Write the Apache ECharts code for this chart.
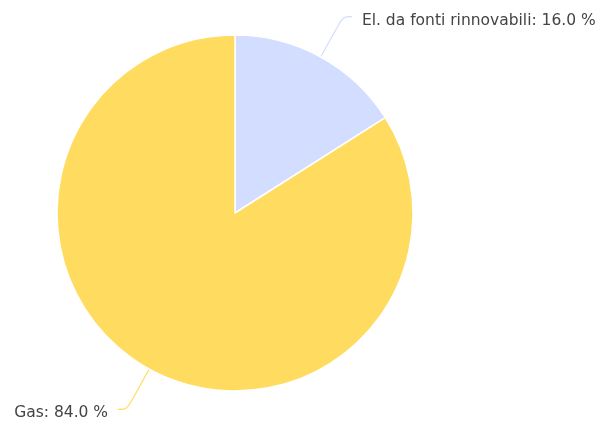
<!DOCTYPE html>
<html><head><meta charset="utf-8">
<script src="https://cdn.jsdelivr.net/npm/echarts@6/dist/echarts.min.js"></script>
<style>html,body{margin:0;padding:0;background:#fff}#c{width:607px;height:423px}</style>
</head><body><div id="c"></div>
<script>
const categories = ["El. da fonti rinnovabili", "Gas"];
const values = [16.0, 84.0];
const colors = ["#d2ddff", "#ffdc5f"];

const chart = echarts.init(document.getElementById('c'), null, {renderer: 'canvas'});
chart.setOption({
  animation: false,
  series: [{
    type: 'pie',
    center: [235, 213],
    radius: [0, 178],
    startAngle: 90,
    clockwise: true,
    avoidLabelOverlap: false,
    data: categories.map((c, i) => ({name: c, value: values[i], itemStyle: {color: colors[i]}})),
    itemStyle: {borderColor: '#fff', borderWidth: 1.5},
    label: {
      formatter: p => p.name + ': ' + p.value.toFixed(1) + ' %',
      fontFamily: 'DejaVu Sans',
      fontSize: 15.5,
      color: '#444',
      distanceToLabelLine: 10,
      offset: [0, 4]
    },
    labelLine: {length: 46, length2: 9, smooth: 0.35, lineStyle: {width: 1.2}}
  }]
});
</script></body></html>
